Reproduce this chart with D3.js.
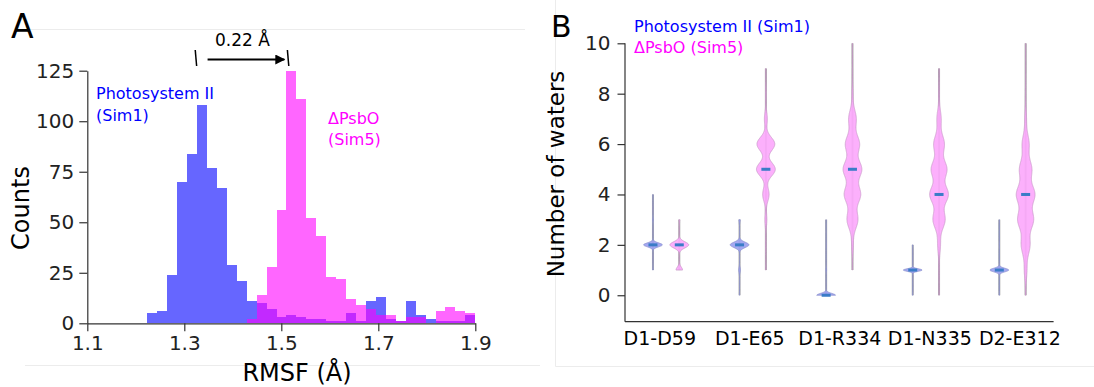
<!DOCTYPE html>
<html><head><meta charset="utf-8">
<script src="https://cdn.jsdelivr.net/npm/d3@7"></script>
<style>
body{margin:0;background:#fff;}
text{font-family:"DejaVu Sans",sans-serif;}
</style>
</head><body>
<svg id="c" width="1094" height="387"></svg>
<script>
// ---------- Panel A data (RMSF histograms) ----------
const binLo = 1.2237, binHi = 1.9, nBins = 33;
const countsSim1 = [5,6,24,70,84,108,77,67,29,21,11,10,7,3,4,3,2,2,1,1,5,1,11,13,2,1,11,4,2,1,1,1,4];
const countsSim5 = [0,0,0,0,0,0,0,0,0,0,2,14,28,56,125,111,52,43,23,22,12,9,7,4,4,1,3,3,0,6,8,6,5];
const rmsfTicks = [1.1,1.3,1.5,1.7,1.9];
const countTicks = [0,25,50,75,100,125];
const shiftMarks = [1.324, 1.514];
const shiftArrow = [1.348, 1.498];
const shiftLabel = "0.22 Å";

// ---------- Panel B data (water counts) ----------
const sites = ["D1-D59","D1-E65","D1-R334","D1-N335","D2-E312"];
const waterValues = [0,1,2,3,4,5,6,7,8,9,10];
const distSim1 = [
  [0,0.02,0.93,0.04,0.01,0,0,0,0,0,0],
  [0.01,0.08,0.85,0.06,0,0,0,0,0,0,0],
  [0.95,0.04,0.008,0.002,0,0,0,0,0,0,0],
  [0.02,0.96,0.02,0,0,0,0,0,0,0,0],
  [0.02,0.95,0.02,0.01,0,0,0,0,0,0,0]
];
const distSim5 = [
  [0,0.25,0.72,0.03,0,0,0,0,0,0,0],
  [0,0.005,0.01,0.04,0.13,0.38,0.36,0.06,0.015,0.003,0],
  [0,0.002,0.015,0.1,0.15,0.17,0.13,0.07,0.01,0.002,0.001],
  [0.003,0.006,0.04,0.17,0.26,0.22,0.15,0.06,0.01,0.002,0],
  [0.005,0.03,0.1,0.18,0.21,0.14,0.08,0.02,0.004,0.001,0.001]
];
const medianSim1 = [2,2,0,1,1];
const medianSim5 = [2,5,5,4,4];
const waterTicks = [0,2,4,6,8,10];
const nFrames = 1000;

const svg = d3.select("#c");
const ink = "#222";

// faint panel frames
svg.append("line").attr("x1",25).attr("x2",525).attr("y1",29.5).attr("y2",29.5).attr("stroke","#ececec");
svg.append("line").attr("x1",25).attr("x2",540).attr("y1",365.5).attr("y2",365.5).attr("stroke","#ececec");
svg.append("line").attr("x1",555.5).attr("x2",555.5).attr("y1",0).attr("y2",366.5).attr("stroke","#ececec");
svg.append("line").attr("x1",555.5).attr("x2",1094).attr("y1",366.5).attr("y2",366.5).attr("stroke","#ececec");

// ================= Panel A =================
const xA = d3.scaleLinear().domain([1.1,1.9]).range([87.3,475.3]);
const yA = d3.scaleLinear().domain([0,125]).range([323.3,70.7]);
const bw = (binHi-binLo)/nBins;
const binsData = (arr)=>arr.map((c,i)=>({x0:binLo+i*bw,x1:binLo+(i+1)*bw,c}));

const gA = svg.append("g");
[[countsSim1,"#0000ff"],[countsSim5,"#ff00ff"]].forEach(([arr,col])=>{
  gA.append("g").selectAll("rect").data(binsData(arr).filter(d=>d.c>0)).join("rect")
    .attr("x",d=>xA(d.x0)).attr("width",d=>xA(d.x1)-xA(d.x0))
    .attr("y",d=>yA(d.c)).attr("height",d=>yA(0)-yA(d.c))
    .attr("fill",col).attr("fill-opacity",0.6).attr("shape-rendering","crispEdges");
});

const axA_x = gA.append("g").attr("transform",`translate(0,${yA(0)})`)
  .call(d3.axisBottom(xA).tickValues(rmsfTicks).tickFormat(d3.format(".1f")).tickSize(8).tickSizeOuter(0).tickPadding(5));
const axA_y = gA.append("g").attr("transform",`translate(${xA(1.1)},0)`)
  .call(d3.axisLeft(yA).tickValues(countTicks).tickSize(8).tickSizeOuter(0).tickPadding(5));
[axA_x,axA_y].forEach(a=>{
  a.selectAll("path,line").attr("stroke","#333").attr("stroke-width",1.2);
  a.selectAll("text").attr("fill",ink).style("font-size","20px");
});

svg.append("text").attr("x",11).attr("y",38).style("font-size","33px").attr("fill","#000").text("A");
svg.append("text").attr("transform","translate(29,208) rotate(-90)").attr("text-anchor","middle")
  .style("font-size","24px").attr("fill","#000").text("Counts");
svg.append("text").attr("x",297).attr("y",381).attr("text-anchor","middle")
  .style("font-size","24px").attr("fill","#000").text("RMSF (Å)");

// shift annotation
shiftMarks.forEach(v=>{
  svg.append("line").attr("x1",xA(v)-0.7).attr("x2",xA(v)+0.7).attr("y1",50).attr("y2",66)
    .attr("stroke","#000").attr("stroke-width",1.5);
});
svg.append("defs").append("marker").attr("id","ah").attr("viewBox","0 0 10 10")
  .attr("refX",9).attr("refY",5).attr("markerWidth",6.5).attr("markerHeight",5).attr("markerUnits","strokeWidth")
  .attr("orient","auto").append("path").attr("d","M0,0L10,5L0,10Z").attr("fill","#000");
svg.append("line").attr("x1",xA(shiftArrow[0])).attr("x2",xA(shiftArrow[1])+4).attr("y1",59.5).attr("y2",59.5)
  .attr("stroke","#000").attr("stroke-width",2).attr("marker-end","url(#ah)");
svg.append("text").attr("x",242.5).attr("y",46).attr("text-anchor","middle")
  .style("font-size","17px").attr("fill","#000").text(shiftLabel);

svg.append("text").attr("x",96).attr("y",99).style("font-size","16px").attr("fill","#0000ff").text("Photosystem II");
svg.append("text").attr("x",96).attr("y",121).style("font-size","16px").attr("fill","#0000ff").text("(Sim1)");
svg.append("text").attr("x",328).attr("y",124).style("font-size","16px").attr("fill","#ff00ff").text("ΔPsbO");
svg.append("text").attr("x",328).attr("y",145).style("font-size","16px").attr("fill","#ff00ff").text("(Sim5)");

// ================= Panel B =================
const axL = 625, axR = 1053.6;
const xB = d3.scalePoint().domain(sites).range([axL,axR]).padding(0.475);
const xLab = d3.scalePoint().domain(sites).range([axL,axR]).padding(0.381);
const yB = d3.scaleLinear().domain([-1.05,10]).range([321.7,43.3]);
const off = xB.step()*0.152;
const halfW = 9.4;

const gB = svg.append("g");

function violinData(dist){
  const idx = dist.map((f,i)=>f>0?i:-1).filter(i=>i>=0);
  const lo = waterValues[idx[0]], hi = waterValues[idx[idx.length-1]];
  const tot = d3.sum(dist);
  const mean = d3.sum(dist,(f,i)=>f*waterValues[i])/tot;
  const sd = Math.sqrt(d3.sum(dist,(f,i)=>f*(waterValues[i]-mean)**2)/tot);
  const bwk = sd*Math.pow(nFrames,-1/5);
  const grid = d3.range(lo,hi+1e-9,0.01);
  const dens = grid.map(v=>d3.sum(dist,(f,i)=>f*Math.exp(-((v-waterValues[i])**2)/(2*bwk*bwk))));
  const mx = d3.max(dens);
  return {lo,hi,pts:grid.map((v,i)=>({v,w:dens[i]/mx}))};
}

const groups = [
  {dist:distSim1, med:medianSim1, dx:-off, fill:"#9ca1f0", stroke:"#8a90cc"},
  {dist:distSim5, med:medianSim5, dx:off,  fill:"#fca9fc", stroke:"#c496c4"}
];
groups.forEach(g=>{
  sites.forEach((s,k)=>{
    const cx = xB(s)+g.dx;
    const vd = violinData(g.dist[k]);
    gB.append("line").attr("x1",cx).attr("x2",cx).attr("y1",yB(vd.lo)).attr("y2",yB(vd.hi))
      .attr("stroke","#aaa").attr("stroke-width",2);
    const area = d3.area().y(d=>yB(d.v)).x0(d=>cx-halfW*d.w).x1(d=>cx+halfW*d.w);
    gB.append("path").attr("d",area(vd.pts)).attr("fill",g.fill).attr("fill-opacity",0.92)
      .attr("stroke",g.stroke).attr("stroke-width",1).attr("stroke-opacity",0.7);
    gB.append("rect").attr("x",cx-4.5).attr("y",yB(g.med[k])-1.5).attr("width",9).attr("height",3)
      .attr("fill","#3a7cc7");
  });
});

const axB_y = gB.append("g").attr("transform",`translate(${axL},0)`)
  .call(d3.axisLeft(yB).tickValues(waterTicks).tickSize(7.5).tickSizeOuter(0).tickPadding(7));
axB_y.select(".domain").attr("d",`M-0,${yB(10)}V${yB(-1.05)}`);
const axB_x = gB.append("g").attr("transform",`translate(0,${yB(-1.05)})`)
  .call(d3.axisBottom(xLab).tickSize(0).tickPadding(10));
axB_x.select(".domain").attr("d",`M${axL},0H${axR}`);
[axB_x,axB_y].forEach(a=>{
  a.selectAll("path,line").attr("stroke","#333").attr("stroke-width",1.2);
});
axB_y.selectAll("text").attr("fill",ink).style("font-size","20px");
axB_x.selectAll("text").attr("fill","#000").style("font-size","19px");

svg.append("text").attr("x",551).attr("y",37).style("font-size","30px").attr("fill","#000").text("B");
svg.append("text").attr("transform","translate(564,174) rotate(-90)").attr("text-anchor","middle")
  .style("font-size","23px").attr("fill","#000").text("Number of waters");
svg.append("text").attr("x",634).attr("y",31.5).style("font-size","16px").attr("fill","#0000ff").text("Photosystem II (Sim1)");
svg.append("text").attr("x",634).attr("y",53).style("font-size","16px").attr("fill","#ff00ff").text("ΔPsbO (Sim5)");
</script>
</body></html>
